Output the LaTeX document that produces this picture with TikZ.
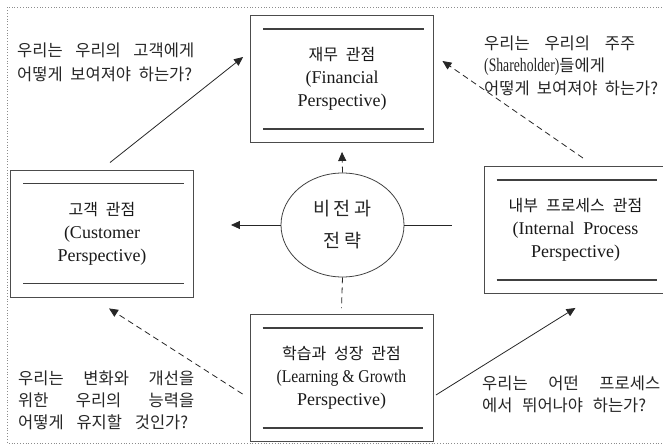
\documentclass[tikz,border=0pt]{standalone}
\usepackage{fontspec}
\usepackage{graphicx}
\usetikzlibrary{arrows.meta,shapes.geometric}
\setmainfont{Liberation Serif}
% Hangul family with wider word spaces
\newfontfamily\hgfont{Noto Sans CJK KR}[WordSpace=2.2]
\newcommand\hg{\hgfont\fontsize{16.5}{23}\selectfont}
\newcommand\hgbox{\hgfont\fontsize{16}{23}\selectfont}
\newcommand\hgbig{\hgfont\fontsize{18.5}{32}\selectfont}
\begin{document}
\begin{tikzpicture}[x=1pt,y=-1pt,
  persp/.style={rectangle, draw=black!70, line width=0.9pt,
    minimum width=183pt, minimum height=127pt, inner sep=0pt,
    align=center, text=black!90, font=\fontsize{18}{23}\selectfont},
  rule/.style={draw=black!75, line width=1.2pt},
  conn/.style={draw=black!85, line width=0.8pt},
  tip/.style={-{Triangle[length=9pt,width=8pt]}},
  dashcon/.style={dash pattern=on 6pt off 4pt},
  question/.style={anchor=west, align=left, inner sep=0pt,
    text=black!85, font=\hg},
]
\useasboundingbox (0,0) rectangle (663,446);
\clip (0,0) rectangle (663,446);

% dotted frame
\draw[black!45, line width=0.8pt, dotted] (7.5,7.5) rectangle (672,443);

% the four perspectives
\node[persp] (fin) at (342,79) {{\hgbox 재무 관점}\\(Financial\\Perspective)};
\node[persp] (cust) at (102,233.5) {{\hgbox 고객 관점}\\(Customer\\Perspective)};
\node[persp] (proc) at (575.5,230) {{\hgbox 내부 프로세스 관점}\\(Internal\ \ Process\\Perspective)};
\node[persp] (learn) at (341.5,378) {{\hgbox 학습과 성장 관점}\\\scalebox{0.87}[1]{(Learning \& Growth}\\Perspective)};

% rules inside each box
\foreach \b in {fin,cust,proc,learn}{
  \draw[rule] ([shift={(13pt,-14pt)}]\b.north west) -- ([shift={(-10pt,-14pt)}]\b.north east);
  \draw[rule] ([shift={(13pt,14pt)}]\b.south west) -- ([shift={(-10pt,14pt)}]\b.south east);
}

% vision and strategy
\node[ellipse, draw=black!75, line width=0.8pt, minimum width=123pt,
  minimum height=104pt, inner sep=0pt, align=center, text=black!85,
  font=\hgbig] (vision) at (342.5,225) {비\,전\,과\\전\,략};

% links from the centre
\coordinate (cTip) at ([xshift=37pt]cust.east);
\coordinate (pEnd) at ([xshift=-32pt]proc.west);
\draw[conn, tip] (vision.west) -- (cTip |- vision.west);
\draw[conn] (vision.east) -- (pEnd |- vision.east);
\draw[conn, tip, dashcon] (vision.north) -- ([yshift=-9pt]fin.south);
\draw[conn, dashcon] (vision.south) -- ([yshift=6pt]learn.north);

% cause-and-effect links between perspectives
\draw[conn, tip] ([shift={(8pt,7pt)}]cust.north) -- ([shift={(-7pt,22pt)}]fin.west);
\draw[conn, tip, dashcon] ([shift={(7.5pt,8pt)}]proc.north) -- ([shift={(8.5pt,18pt)}]fin.east);
\draw[conn, tip, dashcon] ([shift={(-7pt,-16pt)}]learn.west) -- ([shift={(7pt,-11pt)}]cust.south);
\draw[conn, tip] ([shift={(2.5pt,-17pt)}]learn.east) -- ([shift={(0pt,-14pt)}]proc.south);

% guiding questions
\node[question] (qCust) at (17,62.5) {%
  \makebox[177pt][s]{우리는 우리의 고객에게}\\[1pt]
  \makebox[175pt][s]{어떻게 보여져야 하는가?}};
\node[question] (qFin) at (484,65.5) {%
  \makebox[151pt][s]{우리는 우리의 주주}\\[-0.5pt]
  {\rmfamily\fontsize{19}{23}\selectfont\scalebox{0.72}[1]{(Shareholder)}}들에게\\[-0.5pt]
  \makebox[174pt][s]{어떻게 보여져야 하는가?}};
\node[question] (qLearn) at (18,400) {%
  \makebox[176pt][s]{우리는 변화와 개선을}\\[-1pt]
  \makebox[176pt][s]{위한 우리의 능력을}\\[-1pt]
  \makebox[170pt][s]{어떻게 유지할 것인가?}};
\node[question] (qProc) at (482,394) {%
  \makebox[178pt][s]{우리는 어떤 프로세스}\\[-1pt]
  \makebox[164pt][s]{에서 뛰어나야 하는가?}};
\end{tikzpicture}
\end{document}
